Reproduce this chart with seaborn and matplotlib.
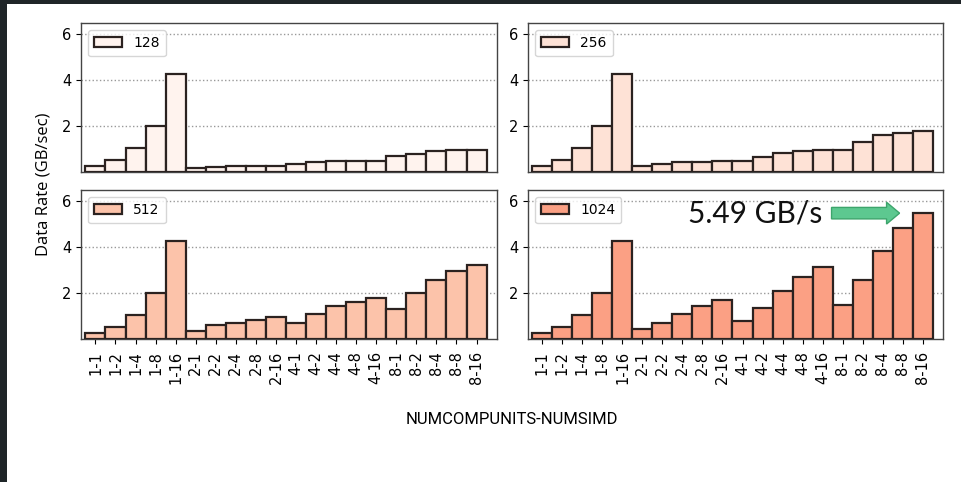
import matplotlib
matplotlib.use("Agg")
import matplotlib.pyplot as plt
from matplotlib.patches import Rectangle
import seaborn as sns
import pandas as pd

# NUMCOMPUNITS-NUMSIMD configurations
configs = ["1-1", "1-2", "1-4", "1-8", "1-16",
           "2-1", "2-2", "2-4", "2-8", "2-16",
           "4-1", "4-2", "4-4", "4-8", "4-16",
           "8-1", "8-2", "8-4", "8-8", "8-16"]

# data rate (GB/sec) per work-group size
rate_128 = [0.26, 0.52, 1.06, 1.99, 4.27, 0.17, 0.22, 0.26, 0.26, 0.26,
            0.36, 0.43, 0.46, 0.48, 0.48, 0.68, 0.80, 0.90, 0.94, 0.97]
rate_256 = [0.26, 0.52, 1.06, 1.99, 4.27, 0.26, 0.35, 0.42, 0.45, 0.48,
            0.48, 0.67, 0.84, 0.91, 0.94, 0.94, 1.29, 1.61, 1.70, 1.81]
rate_512 = [0.28, 0.53, 1.06, 1.99, 4.27, 0.35, 0.59, 0.70, 0.85, 0.97,
            0.69, 1.07, 1.42, 1.61, 1.80, 1.30, 1.99, 2.57, 2.98, 3.22]
rate_1024 = [0.28, 0.53, 1.06, 1.99, 4.27, 0.42, 0.70, 1.07, 1.45, 1.70,
             0.78, 1.35, 2.08, 2.71, 3.13, 1.48, 2.57, 3.83, 4.83, 5.49]

sizes = ["128", "256", "512", "1024"]
series = [rate_128, rate_256, rate_512, rate_1024]
colors = ["#fff3ee", "#fee2d6", "#fcc3aa", "#fba084"]

fig = plt.figure(figsize=(9.61, 4.82), dpi=100)

# dark frame strips along the top and left edges
fig.patches.append(Rectangle((0, 1 - 4 / 482), 1, 4 / 482, transform=fig.transFigure,
                             facecolor="#1f2528", edgecolor="none", zorder=0))
fig.patches.append(Rectangle((0, 0), 7 / 961, 1, transform=fig.transFigure,
                             facecolor="#1f2528", edgecolor="none", zorder=0))

W, H = 961, 482
boxes = [(81, 23, 497, 172), (528, 23, 943, 172),
         (81, 190, 497, 339), (528, 190, 943, 339)]

axes = []
for i, ((x0, y0, x1, y1), size, vals, col) in enumerate(zip(boxes, sizes, series, colors)):
    ax = fig.add_axes([x0 / W, 1 - y1 / H, (x1 - x0) / W, (y1 - y0) / H])
    df = pd.DataFrame({"config": configs, "rate": vals})
    sns.barplot(data=df, x="config", y="rate", color=col, saturation=1,
                width=1.0, edgecolor="#2b2220", linewidth=1.6, label=size,
                ax=ax, zorder=3)
    ax.set_xlim(-0.72, 20.02)
    ax.set_ylim(0, 6.5)
    ax.set_yticks([2, 4, 6])
    ax.set_xlabel("")
    ax.set_ylabel("")
    ax.grid(axis="y", linestyle=":", color="#999999", linewidth=1.0, zorder=0)
    ax.set_axisbelow(True)
    for sp in ax.spines.values():
        sp.set_color("#444444")
        sp.set_linewidth(1.0)
    ax.tick_params(axis="y", labelsize=10.5, length=3.5)
    if i < 2:
        ax.tick_params(axis="x", bottom=False, labelbottom=False)
    else:
        ax.tick_params(axis="x", labelsize=10.5, rotation=90, length=3.5, pad=5)
    ax.legend(loc="upper left", fontsize=10, handlelength=2.0,
              borderpad=0.45, framealpha=0.8)
    axes.append(ax)

# highlight of the peak data rate
ax = axes[3]
peak = rate_1024[-1]
ax.text(14.0, peak, f"{peak:.2f} GB/s", ha="right", va="center",
        fontsize=21.5, family=["Lato", "DejaVu Sans"], color="#111111", zorder=5)
ax.arrow(14.45, peak, 3.4, 0, width=0.5, head_width=0.95, head_length=0.65,
         length_includes_head=True, facecolor="#5dc890", edgecolor="#3da56c",
         linewidth=1.0, zorder=5)

fig.text(43 / W, 1 - 184 / H, "Data Rate (GB/sec)", rotation=90, ha="center",
         va="center", fontsize=12, family=["Open Sans", "DejaVu Sans"])
fig.text(512 / W, 1 - 420 / H, "NUMCOMPUNITS-NUMSIMD", ha="center", va="center",
         fontsize=12, family=["Roboto", "DejaVu Sans"])

fig.savefig("out.png", dpi=100)
